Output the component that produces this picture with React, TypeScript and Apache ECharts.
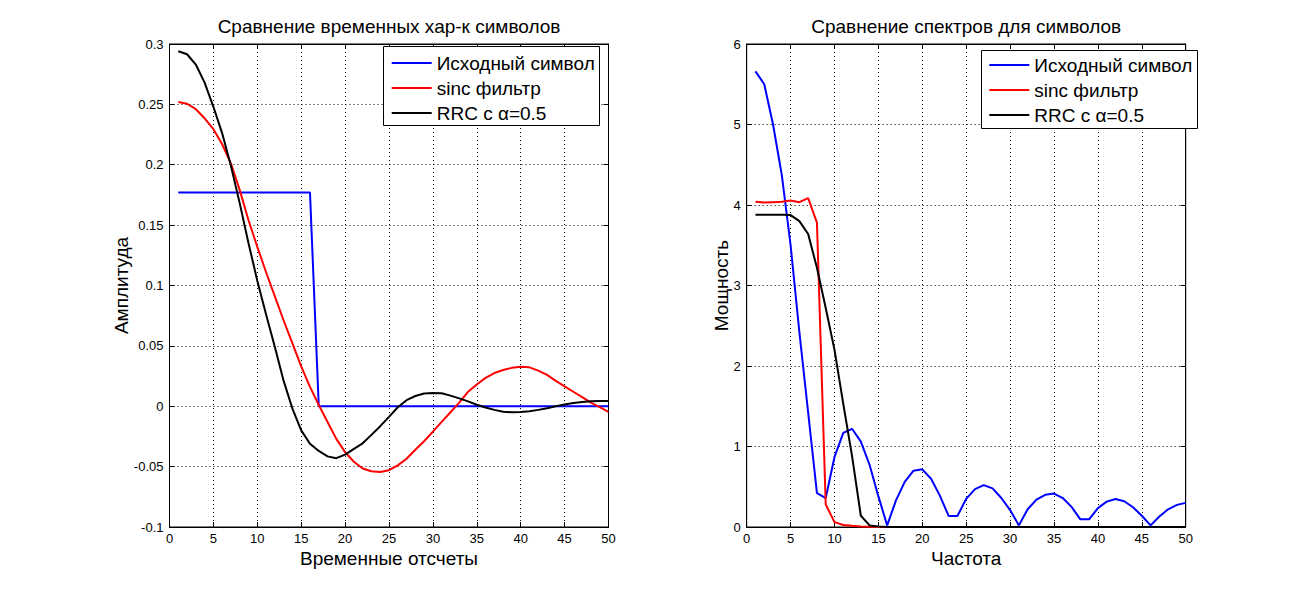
import React, { useEffect, useRef } from "react";
import * as echarts from "echarts";

// sample index (x for both subplots)
const SAMPLE_IDX = [
  1, 2, 3, 4, 5, 6, 7, 8, 9, 10, 11, 12, 13, 14, 15, 16, 17, 18, 19, 20, 21, 22, 23, 24, 25,
  26, 27, 28, 29, 30, 31, 32, 33, 34, 35, 36, 37, 38, 39, 40, 41, 42, 43, 44, 45, 46, 47, 48, 49, 50,
];

const SERIES_NAMES = ["Исходный символ", "sinc фильтр", "RRC с α=0.5"];

// left subplot: time responses
const TIME_RECT = [
  0.177, 0.177, 0.177, 0.177, 0.177, 0.177, 0.177, 0.177, 0.177, 0.177,
  0.177, 0.177, 0.177, 0.177, 0.177, 0.177, 0, 0, 0, 0,
  0, 0, 0, 0, 0, 0, 0, 0, 0, 0,
  0, 0, 0, 0, 0, 0, 0, 0, 0, 0,
  0, 0, 0, 0, 0, 0, 0, 0, 0, 0,
];
const TIME_SINC = [
  0.252, 0.2505, 0.246, 0.2385, 0.2295, 0.217, 0.201, 0.179, 0.154, 0.132,
  0.111, 0.091, 0.071, 0.052, 0.033, 0.016, 0.001, -0.013, -0.027, -0.038,
  -0.046, -0.0515, -0.0538, -0.0544, -0.053, -0.049, -0.0435, -0.036, -0.029, -0.021,
  -0.013, -0.005, 0.003, 0.012, 0.018, 0.0235, 0.0275, 0.03, 0.0318, 0.0327,
  0.0322, 0.0295, 0.026, 0.021, 0.0165, 0.012, 0.0075, 0.003, -0.0008, -0.0047,
];
const TIME_RRC = [
  0.294, 0.2915, 0.283, 0.268, 0.248, 0.226, 0.199, 0.168, 0.135, 0.104,
  0.076, 0.049, 0.021, -0.002, -0.02, -0.031, -0.037, -0.0415, -0.043, -0.04,
  -0.0353, -0.0307, -0.0237, -0.0165, -0.0088, -0.0008, 0.005, 0.0085, 0.0105, 0.011,
  0.0107, 0.0088, 0.0065, 0.004, 0.0012, -0.001, -0.003, -0.0045, -0.005, -0.0048,
  -0.0041, -0.003, -0.0016, 0.0, 0.0015, 0.0026, 0.0036, 0.0042, 0.0044, 0.0044,
];

// right subplot: spectra
const SPEC_RECT = [
  5.66, 5.5, 5.0, 4.37, 3.5, 2.42, 1.42, 0.42, 0.36, 0.87,
  1.17, 1.22, 1.06, 0.77, 0.38, 0.02, 0.33, 0.56, 0.7, 0.716,
  0.6, 0.39, 0.137, 0.137, 0.35, 0.47, 0.52, 0.48, 0.36, 0.21,
  0.02, 0.22, 0.34, 0.4, 0.415, 0.36, 0.25, 0.095, 0.095, 0.235,
  0.315, 0.348, 0.32, 0.245, 0.14, 0.02, 0.13, 0.22, 0.275, 0.3,
];
const SPEC_SINC = [
  4.04, 4.03, 4.035, 4.04, 4.055, 4.035, 4.085, 3.78, 0.28, 0.06,
  0.025, 0.015, 0.006, 0.002, 0, 0, 0, 0, 0, 0,
  0, 0, 0, 0, 0, 0, 0, 0, 0, 0,
  0, 0, 0, 0, 0, 0, 0, 0, 0, 0,
  0, 0, 0, 0, 0, 0, 0, 0, 0, 0,
];
const SPEC_RRC = [
  3.88, 3.88, 3.88, 3.88, 3.875, 3.8, 3.64, 3.22, 2.72, 2.2,
  1.53, 0.88, 0.14, 0.02, 0.005, 0, 0, 0, 0, 0,
  0, 0, 0, 0, 0, 0, 0, 0, 0, 0,
  0, 0, 0, 0, 0, 0, 0, 0, 0, 0,
  0, 0, 0, 0, 0, 0, 0, 0, 0, 0,
];

const COLORS = ["#0000ff", "#ff0000", "#000000"];
const FONT = '"Liberation Sans", Arial, Helvetica, sans-serif';

const pair = (ys: number[]) => SAMPLE_IDX.map((x, i) => [x, ys[i]]);

const G = [
  { left: 169.5, top: 44, width: 439, height: 483 },
  { left: 746.7, top: 44, width: 439, height: 483 },
];

function mainX(gi: number) {
  return {
    gridIndex: gi, type: "value", min: 0, max: 50, interval: 5, position: "bottom",
    axisLine: { show: true, onZero: false, lineStyle: { color: "#000", width: 1 } },
    axisTick: { show: true, inside: true, length: 5, lineStyle: { color: "#000" } },
    axisLabel: { color: "#000", fontSize: 13, fontFamily: FONT, margin: 5 },
    splitLine: { show: true, lineStyle: { color: "#000", width: 1, type: [1, 3] } },
  };
}
function topX(gi: number) {
  return {
    gridIndex: gi, type: "value", min: 0, max: 50, interval: 5, position: "top",
    axisLine: { show: true, onZero: false, lineStyle: { color: "#000", width: 1 } },
    axisTick: { show: true, inside: true, length: 5, lineStyle: { color: "#000" } },
    axisLabel: { show: false }, splitLine: { show: false },
  };
}
function mainY(gi: number, min: number, max: number, interval: number) {
  return {
    gridIndex: gi, type: "value", min, max, interval, position: "left",
    axisLine: { show: true, onZero: false, lineStyle: { color: "#000", width: 1 } },
    axisTick: { show: true, inside: true, length: 5, lineStyle: { color: "#000" } },
    axisLabel: { color: "#000", fontSize: 13, fontFamily: FONT, margin: 6 },
    splitLine: { show: true, lineStyle: { color: "#000", width: 1, type: [1, 3] } },
  };
}
function rightY(gi: number, min: number, max: number, interval: number) {
  return {
    gridIndex: gi, type: "value", min, max, interval, position: "right",
    axisLine: { show: true, onZero: false, lineStyle: { color: "#000", width: 1 } },
    axisTick: { show: true, inside: true, length: 5, lineStyle: { color: "#000" } },
    axisLabel: { show: false }, splitLine: { show: false },
  };
}

function lineSeries(name: string, color: string, xi: number, yi: number, ys: number[]) {
  return {
    type: "line", name, xAxisIndex: xi, yAxisIndex: yi, data: pair(ys),
    symbol: "none", showSymbol: false, smooth: false, z: 2,
    lineStyle: { color, width: 2 }, itemStyle: { color },
  };
}

function txt(text: string, x: number, y: number, size: number, rot = 0) {
  return {
    type: "text", x, y, rotation: rot, z: 10,
    style: {
      text, fill: "#000", font: `${size}px ${FONT}`, fontSize: size, fontFamily: FONT,
      align: "center", verticalAlign: "middle", textAlign: "center", textVerticalAlign: "middle",
    },
  };
}

function legendCfg(left: number, top: number) {
  return {
    data: SERIES_NAMES, left, top, orient: "vertical", padding: 0, itemGap: 5,
    itemWidth: 40, itemHeight: 2, icon: "path://M0 0H40V2H0Z", selectedMode: false, z: 20,
    textStyle: { color: "#000", fontSize: 19, lineHeight: 20, fontFamily: FONT },
  };
}

export default function App() {
  const ref = useRef<HTMLDivElement>(null);
  useEffect(() => {
    if (!ref.current) return;
    const chart = echarts.init(ref.current, null, { renderer: "svg" });
    const cx0 = G[0].left + G[0].width / 2;
    const cx1 = G[1].left + G[1].width / 2;
    const cy = G[0].top + G[0].height / 2;
    chart.setOption({
      animation: false,
      backgroundColor: "#ffffff",
      color: COLORS,
      grid: G.map((g) => ({ ...g, show: true, borderColor: "#000", borderWidth: 1, backgroundColor: "#fff", containLabel: false })),
      xAxis: [mainX(0), topX(0), mainX(1), topX(1)],
      yAxis: [mainY(0, -0.1, 0.3, 0.05), rightY(0, -0.1, 0.3, 0.05), mainY(1, 0, 6, 1), rightY(1, 0, 6, 1)],
      legend: [legendCfg(391.7, 53), legendCfg(989.3, 55)],
      series: [
        lineSeries(SERIES_NAMES[0], COLORS[0], 0, 0, TIME_RECT),
        lineSeries(SERIES_NAMES[1], COLORS[1], 0, 0, TIME_SINC),
        lineSeries(SERIES_NAMES[2], COLORS[2], 0, 0, TIME_RRC),
        lineSeries(SERIES_NAMES[0], COLORS[0], 2, 2, SPEC_RECT),
        lineSeries(SERIES_NAMES[1], COLORS[1], 2, 2, SPEC_SINC),
        lineSeries(SERIES_NAMES[2], COLORS[2], 2, 2, SPEC_RRC),
      ],
      graphic: [
        { type: "rect", z: 15, shape: { x: 383.5, y: 46.5, width: 216, height: 79 }, style: { fill: "#fff", stroke: "#000", lineWidth: 1 } },
        { type: "rect", z: 15, shape: { x: 981.5, y: 50.5, width: 216, height: 78 }, style: { fill: "#fff", stroke: "#000", lineWidth: 1 } },
        txt("Сравнение временных хар-к символов", cx0, 26, 19),
        txt("Сравнение спектров для символов", cx1, 26, 19),
        txt("Временные отсчеты", cx0, 558, 19),
        txt("Частота", cx1, 558, 19),
        txt("Амплитуда", 121, cy, 19, Math.PI / 2),
        txt("Мощность", 721, cy, 19, Math.PI / 2),
      ],
    });
    return () => chart.dispose();
  }, []);
  return (
    <div style={{ position: "absolute", left: 0, top: 0, width: 1309, height: 592, background: "#fff" }}>
      <div ref={ref} style={{ width: 1309, height: 592 }} />
    </div>
  );
}
